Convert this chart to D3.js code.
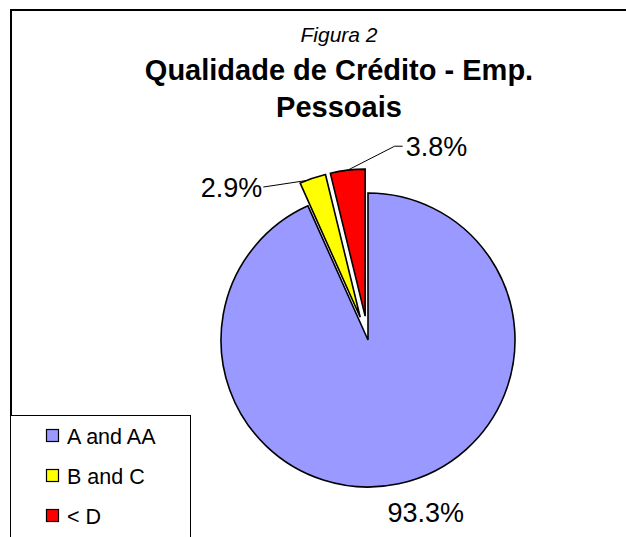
<!DOCTYPE html>
<html>
<head>
<meta charset="utf-8">
<script src="https://cdn.jsdelivr.net/npm/d3@7"></script>
<style>
  html, body { margin: 0; padding: 0; background: #fff; }
  svg { display: block; font-family: "Liberation Sans", Arial, sans-serif; }
</style>
</head>
<body>
<svg id="chart" width="626" height="537"></svg>
<script>
// ---- data ----
const categories = ["A and AA", "B and C", "< D"];
const values = [93.3, 2.9, 3.8];
const colors = ["#9999FF", "#FFFF00", "#FF0000"];
const exploded = [false, true, true];
const valueLabels = ["93.3%", "2.9%", "3.8%"];
const titleLines = ["Qualidade de Crédito - Emp.", "Pessoais"];
const subtitle = "Figura 2";

// ---- layout ----
const cx = 368, cy = 340, R = 147, explode = 24;
const svg = d3.select("#chart");

// chart frame (cropped: only top and left visible)
svg.append("path")
  .attr("d", "M11,700 V10 H700")
  .attr("fill", "none").attr("stroke", "#000").attr("stroke-width", 2);

// titles
const tx = 339;
svg.append("text").attr("x", tx).attr("y", 42)
  .attr("text-anchor", "middle").attr("font-style", "italic")
  .attr("font-size", 21).text(subtitle);
titleLines.forEach((t, i) => {
  svg.append("text").attr("x", tx).attr("y", 80 + i * 37)
    .attr("text-anchor", "middle").attr("font-weight", "bold")
    .attr("font-size", 29).text(t);
});

// pie
const pie = d3.pie().sort(null).value(d => d).startAngle(0).endAngle(2 * Math.PI);
const arcs = pie(values);
const arc = d3.arc().innerRadius(0).outerRadius(R);

function offsetOf(d, i) {
  if (!exploded[i]) return [0, 0];
  const a = (d.startAngle + d.endAngle) / 2;
  return [Math.sin(a) * explode, -Math.cos(a) * explode];
}
function outerPoint(d, i, frac) {
  const o = offsetOf(d, i);
  const a = d.startAngle + (d.endAngle - d.startAngle) * frac;
  return [Math.sin(a) * R + o[0], -Math.cos(a) * R + o[1]];
}

const g = svg.append("g").attr("transform", `translate(${cx},${cy})`);
g.selectAll("path.slice").data(arcs).join("path")
  .attr("class", "slice")
  .attr("d", arc)
  .attr("transform", (d, i) => { const o = offsetOf(d, i); return `translate(${o[0]},${o[1]})`; })
  .attr("fill", (d, i) => colors[i])
  .attr("stroke", "#000").attr("stroke-width", 1.6).attr("stroke-linejoin", "miter");

// labels
const labelFont = 27;
arcs.forEach((d, i) => {
  if (i === 0) {
    const [sx, sy] = outerPoint(d, i, 0.5);
    g.append("text").attr("x", sx + 27).attr("y", sy + 38)
      .attr("text-anchor", "middle").attr("font-size", labelFont).text(valueLabels[i]);
  } else if (i === 1) {
    const [sx, sy] = outerPoint(d, i, 0.25);
    const ex = sx - 43, ey = sy + 6.5;
    g.append("path").attr("d", `M${sx},${sy} L${ex},${ey}`)
      .attr("stroke", "#000").attr("stroke-width", 1).attr("fill", "none");
    g.append("text").attr("x", ex - 1).attr("y", ey + 10)
      .attr("text-anchor", "end").attr("font-size", labelFont).text(valueLabels[i]);
  } else {
    const [sx, sy] = outerPoint(d, i, 0.5);
    const mx = sx + 47, my = sy - 24, ex = sx + 55;
    g.append("path").attr("d", `M${sx},${sy} L${mx},${my} L${ex},${my}`)
      .attr("stroke", "#000").attr("stroke-width", 1).attr("fill", "none");
    g.append("text").attr("x", ex + 3).attr("y", my + 10)
      .attr("font-size", labelFont).text(valueLabels[i]);
  }
});

// legend
const lg = svg.append("g");
lg.append("rect").attr("x", 10.5).attr("y", 415.5).attr("width", 180).attr("height", 200)
  .attr("fill", "#fff").attr("stroke", "#000").attr("stroke-width", 1);
const ly = d3.scalePoint().domain(categories).range([436, 516]);
categories.forEach((c, i) => {
  const y = ly(c);
  lg.append("rect").attr("x", 46.5).attr("y", y - 6.5).attr("width", 12).attr("height", 12)
    .attr("fill", colors[i]).attr("stroke", "#000").attr("stroke-width", 1.2);
  lg.append("text").attr("x", 67).attr("y", y + 7.5)
    .attr("font-size", 21.5).text(c);
});
</script>
</body>
</html>
